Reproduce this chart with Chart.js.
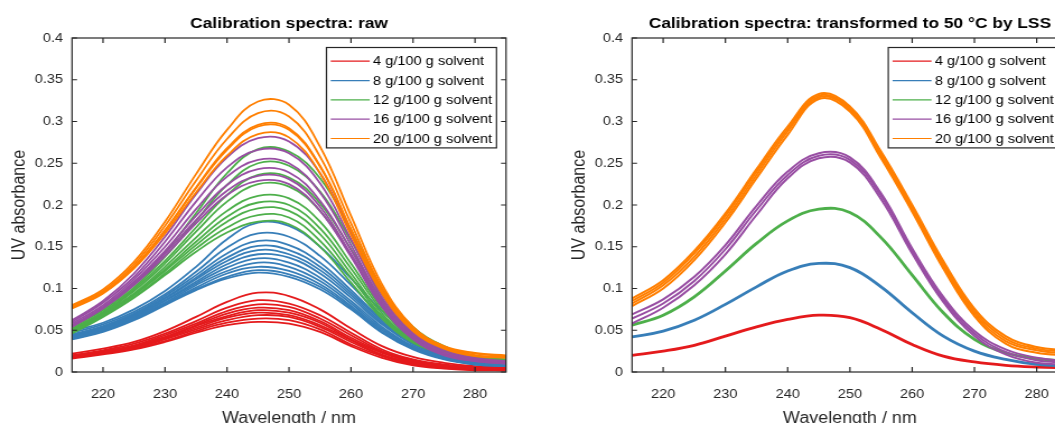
<!DOCTYPE html>
<html>
<head>
<meta charset="utf-8">
<script src="https://cdn.jsdelivr.net/npm/chart.js@4.4.1/dist/chart.umd.min.js"></script>
<style>
  html, body { margin: 0; padding: 0; background: #fff; }
  body { width: 1055px; height: 423px; overflow: hidden; position: relative; }
  .panel { position: absolute; top: 0; transform: scaleX(1.12); transform-origin: 0 0; }
</style>
</head>
<body>
<div class="panel" style="left:0px"><canvas id="raw" width="473" height="430"></canvas></div>
<div class="panel" style="left:560px"><canvas id="lss" width="473" height="430"></canvas></div>
<script>
const wavelengths = [215, 220, 225, 230, 235, 240, 245, 250, 255, 260, 265, 270, 275, 280, 285];
const xTicks = [220, 230, 240, 250, 260, 270, 280];
const yTicks = [0, 0.05, 0.1, 0.15, 0.2, 0.25, 0.3, 0.35, 0.4];
const concentrationLabels = ["4 g/100 g solvent", "8 g/100 g solvent", "12 g/100 g solvent", "16 g/100 g solvent", "20 g/100 g solvent"];
const groupColors = ["#e41a1c", "#377eb8", "#4daf4a", "#984ea3", "#ff7f00"];

// raw spectra, one row per measured temperature
const rawRed = [
  [0.022,0.028,0.036,0.049,0.066,0.084,0.095,0.091,0.075,0.052,0.031,0.018,0.011,0.007,0.006],
  [0.020,0.026,0.034,0.046,0.061,0.077,0.086,0.082,0.068,0.047,0.027,0.015,0.009,0.006,0.005],
  [0.020,0.025,0.032,0.044,0.058,0.073,0.081,0.078,0.064,0.044,0.025,0.014,0.008,0.005,0.004],
  [0.019,0.024,0.031,0.042,0.056,0.070,0.077,0.074,0.061,0.041,0.024,0.013,0.007,0.004,0.004],
  [0.018,0.024,0.031,0.041,0.055,0.067,0.074,0.071,0.059,0.039,0.023,0.012,0.007,0.004,0.004],
  [0.018,0.023,0.030,0.040,0.053,0.065,0.071,0.068,0.056,0.038,0.021,0.011,0.006,0.004,0.003],
  [0.017,0.023,0.029,0.039,0.051,0.062,0.068,0.066,0.054,0.036,0.020,0.010,0.006,0.003,0.003],
  [0.017,0.022,0.028,0.037,0.049,0.059,0.064,0.062,0.051,0.033,0.019,0.009,0.005,0.003,0.002],
  [0.016,0.021,0.027,0.036,0.047,0.056,0.060,0.058,0.048,0.031,0.017,0.008,0.004,0.002,0.002]
];
const rawBlue = [
  [0.049,0.059,0.075,0.097,0.126,0.159,0.179,0.175,0.150,0.112,0.073,0.043,0.025,0.014,0.010],
  [0.047,0.057,0.072,0.093,0.120,0.149,0.166,0.162,0.139,0.104,0.067,0.039,0.023,0.013,0.009],
  [0.045,0.055,0.070,0.091,0.116,0.142,0.157,0.152,0.131,0.098,0.063,0.037,0.021,0.012,0.009],
  [0.044,0.054,0.069,0.089,0.113,0.137,0.151,0.146,0.126,0.095,0.061,0.035,0.020,0.012,0.009],
  [0.044,0.053,0.068,0.088,0.111,0.133,0.146,0.141,0.122,0.092,0.059,0.034,0.020,0.011,0.008],
  [0.043,0.052,0.067,0.086,0.108,0.129,0.141,0.137,0.118,0.089,0.057,0.033,0.019,0.011,0.008],
  [0.042,0.051,0.066,0.085,0.106,0.125,0.136,0.131,0.113,0.085,0.054,0.031,0.018,0.010,0.008],
  [0.041,0.050,0.065,0.083,0.104,0.121,0.131,0.126,0.109,0.082,0.052,0.030,0.017,0.010,0.008],
  [0.040,0.049,0.064,0.082,0.101,0.118,0.126,0.121,0.105,0.079,0.050,0.029,0.016,0.010,0.007],
  [0.040,0.049,0.063,0.081,0.099,0.114,0.122,0.117,0.102,0.077,0.048,0.028,0.016,0.009,0.007],
  [0.039,0.048,0.062,0.080,0.098,0.112,0.119,0.114,0.099,0.075,0.047,0.027,0.015,0.009,0.007]
];
const rawGreen = [
  [0.056,0.076,0.104,0.143,0.190,0.238,0.267,0.264,0.232,0.170,0.100,0.054,0.031,0.019,0.015],
  [0.054,0.074,0.101,0.138,0.181,0.224,0.250,0.247,0.216,0.157,0.093,0.050,0.029,0.018,0.015],
  [0.052,0.072,0.099,0.133,0.173,0.212,0.236,0.233,0.202,0.147,0.087,0.047,0.028,0.018,0.014],
  [0.051,0.071,0.097,0.130,0.168,0.204,0.225,0.222,0.193,0.140,0.083,0.045,0.027,0.018,0.014],
  [0.050,0.070,0.094,0.126,0.161,0.193,0.211,0.208,0.180,0.130,0.077,0.042,0.025,0.017,0.014],
  [0.049,0.069,0.093,0.123,0.156,0.186,0.203,0.200,0.172,0.124,0.074,0.040,0.024,0.017,0.014],
  [0.048,0.068,0.092,0.121,0.152,0.180,0.196,0.193,0.165,0.118,0.070,0.038,0.024,0.017,0.013],
  [0.047,0.067,0.090,0.118,0.148,0.173,0.188,0.185,0.157,0.113,0.067,0.037,0.023,0.016,0.013],
  [0.046,0.066,0.089,0.116,0.144,0.167,0.180,0.177,0.150,0.107,0.064,0.035,0.022,0.016,0.013]
];
const rawPurple = [
  [0.062,0.085,0.118,0.162,0.213,0.257,0.280,0.276,0.238,0.167,0.093,0.047,0.026,0.017,0.013],
  [0.060,0.083,0.114,0.156,0.204,0.245,0.266,0.262,0.226,0.159,0.089,0.045,0.024,0.016,0.012],
  [0.058,0.080,0.111,0.150,0.195,0.234,0.254,0.250,0.215,0.152,0.085,0.043,0.023,0.015,0.011],
  [0.056,0.078,0.108,0.145,0.187,0.224,0.243,0.239,0.205,0.146,0.082,0.041,0.022,0.014,0.011],
  [0.055,0.077,0.106,0.142,0.182,0.217,0.235,0.231,0.198,0.141,0.080,0.040,0.021,0.013,0.010],
  [0.054,0.076,0.104,0.139,0.178,0.212,0.229,0.225,0.193,0.138,0.078,0.039,0.020,0.013,0.010]
];
const rawOrange = [
  [0.080,0.099,0.132,0.180,0.237,0.290,0.324,0.320,0.270,0.187,0.105,0.054,0.031,0.023,0.020],
  [0.079,0.097,0.129,0.175,0.229,0.279,0.310,0.306,0.258,0.178,0.101,0.052,0.030,0.022,0.019],
  [0.077,0.095,0.126,0.170,0.221,0.268,0.296,0.292,0.247,0.171,0.097,0.050,0.029,0.020,0.018],
  [0.077,0.095,0.126,0.169,0.220,0.266,0.294,0.290,0.246,0.170,0.097,0.050,0.029,0.020,0.018],
  [0.076,0.094,0.124,0.166,0.215,0.259,0.285,0.281,0.238,0.164,0.094,0.049,0.028,0.019,0.017]
];

// spectra after LSS transformation to 50 °C
const lssRed = [
  [0.020,0.025,0.032,0.043,0.054,0.063,0.068,0.065,0.051,0.033,0.019,0.012,0.008,0.006,0.005]
];
const lssBlue = [
  [0.042,0.049,0.062,0.081,0.102,0.121,0.130,0.125,0.102,0.071,0.043,0.025,0.015,0.009,0.007]
];
const lssGreen = [
  [0.056,0.068,0.090,0.121,0.154,0.181,0.195,0.191,0.161,0.116,0.071,0.039,0.023,0.016,0.013]
];
const lssPurple = [
  [0.069,0.087,0.114,0.152,0.199,0.240,0.262,0.257,0.214,0.148,0.090,0.049,0.027,0.017,0.013],
  [0.064,0.082,0.109,0.147,0.194,0.236,0.259,0.254,0.211,0.145,0.087,0.046,0.024,0.014,0.011],
  [0.058,0.077,0.104,0.141,0.188,0.232,0.256,0.251,0.207,0.142,0.084,0.043,0.021,0.011,0.009]
];
const lssOrange = [
  [0.088,0.110,0.145,0.190,0.243,0.294,0.333,0.318,0.264,0.200,0.133,0.076,0.043,0.030,0.026],
  [0.085,0.107,0.142,0.187,0.240,0.291,0.331,0.316,0.261,0.197,0.130,0.073,0.040,0.028,0.024],
  [0.082,0.104,0.138,0.183,0.236,0.288,0.329,0.314,0.258,0.194,0.127,0.070,0.037,0.026,0.022],
  [0.079,0.100,0.134,0.179,0.232,0.284,0.327,0.312,0.256,0.192,0.124,0.067,0.034,0.023,0.020]
];

Chart.defaults.font.family = "'Liberation Sans', Arial, sans-serif";
const axisColor = "#262626";

function buildDatasets(groups, widths) {
  const sets = [];
  groups.forEach((curves, g) => {
    curves.forEach((values) => {
      sets.push({
        label: concentrationLabels[g],
        data: values.map((v, i) => ({ x: wavelengths[i], y: v })),
        borderColor: groupColors[g],
        borderWidth: widths[g],
        pointRadius: 0,
        tension: 0.4,
        fill: false,
        order: groups.length - 1 - g,
      });
    });
  });
  return sets;
}

// box, inward ticks on all four sides and the legend box, MATLAB style
const matlabFrame = {
  id: "matlabFrame",
  afterDraw(chart) {
    const { ctx, chartArea: a, scales } = chart;
    const x = scales.x, y = scales.y;
    ctx.save();
    ctx.strokeStyle = axisColor;
    ctx.lineWidth = 1.2;
    ctx.strokeRect(a.left, a.top, a.right - a.left, a.bottom - a.top);
    ctx.beginPath();
    xTicks.forEach((v) => {
      const px = x.getPixelForValue(v);
      ctx.moveTo(px, a.bottom); ctx.lineTo(px, a.bottom - 5);
      ctx.moveTo(px, a.top); ctx.lineTo(px, a.top + 5);
    });
    yTicks.forEach((v) => {
      const py = y.getPixelForValue(v);
      ctx.moveTo(a.left, py); ctx.lineTo(a.left + 4.5, py);
      ctx.moveTo(a.right, py); ctx.lineTo(a.right - 4.5, py);
    });
    ctx.stroke();

    // legend
    const boxW = 151.8, boxH = 100.4;
    const bx = a.right - 8.5 - boxW, by = a.top + 9.5;
    ctx.fillStyle = "#fff";
    ctx.fillRect(bx, by, boxW, boxH);
    ctx.lineWidth = 1.2;
    ctx.strokeStyle = axisColor;
    ctx.strokeRect(bx, by, boxW, boxH);
    ctx.font = "13px 'Liberation Sans', Arial, sans-serif";
    ctx.textBaseline = "middle";
    ctx.textAlign = "left";
    concentrationLabels.forEach((label, i) => {
      const ry = by + 13.7 + i * 19.33;
      ctx.beginPath();
      ctx.strokeStyle = groupColors[i];
      ctx.lineWidth = 1.2;
      ctx.moveTo(bx + 3.8, ry);
      ctx.lineTo(bx + 38.6, ry);
      ctx.stroke();
      ctx.fillStyle = "#000";
      ctx.fillText(label, bx + 41.6, ry + 0.5);
    });
    ctx.restore();
  },
};

function makeChart(id, titleText, groups, widths, rightPad) {
  return new Chart(document.getElementById(id), {
    type: "line",
    data: { datasets: buildDatasets(groups, widths) },
    plugins: [matlabFrame],
    options: {
      responsive: false,
      animation: false,
      events: [],
      layout: { padding: { left: 0, right: rightPad, top: 0, bottom: 0 } },
      plugins: {
        legend: { display: false },
        tooltip: { enabled: false },
        title: {
          display: true,
          text: titleText,
          fullSize: false,
          color: "#000",
          font: { size: 15.5, weight: "bold" },
          padding: { top: 14.2, bottom: 5.2 },
        },
      },
      scales: {
        x: {
          type: "linear",
          min: 215,
          max: 285,
          grid: { display: false, drawTicks: false },
          border: { display: false },
          afterBuildTicks: (s) => { s.ticks = xTicks.map((v) => ({ value: v })); },
          afterFit: (s) => { s.height = 58; },
          ticks: { color: axisColor, font: { size: 13 }, padding: 15, maxRotation: 0, callback: (v) => String(v) },
          title: { display: true, text: "Wavelength / nm", color: axisColor, font: { size: 16 }, padding: { top: 0, bottom: 1.7 } },
        },
        y: {
          min: 0,
          max: 0.4,
          grid: { display: false, drawTicks: false },
          border: { display: false },
          afterBuildTicks: (s) => { s.ticks = yTicks.map((v) => ({ value: v })); },
          afterFit: (s) => { s.width = 64.3; },
          ticks: { color: axisColor, font: { size: 13 }, padding: 8, callback: (v) => String(v) },
          title: { display: true, text: "UV absorbance", color: axisColor, font: { size: 16 }, padding: { top: 8.3, bottom: 0 } },
        },
      },
    },
  });
}

makeChart("raw", "Calibration spectra: raw",
  [rawRed, rawBlue, rawGreen, rawPurple, rawOrange], [1.8, 1.8, 1.8, 1.8, 1.8], 21.2);
makeChart("lss", "Calibration spectra: transformed to 50 °C by LSS",
  [lssRed, lssBlue, lssGreen, lssPurple, lssOrange], [2.8, 2.8, 2.8, 2, 2], 19.6);
</script>
</body>
</html>
